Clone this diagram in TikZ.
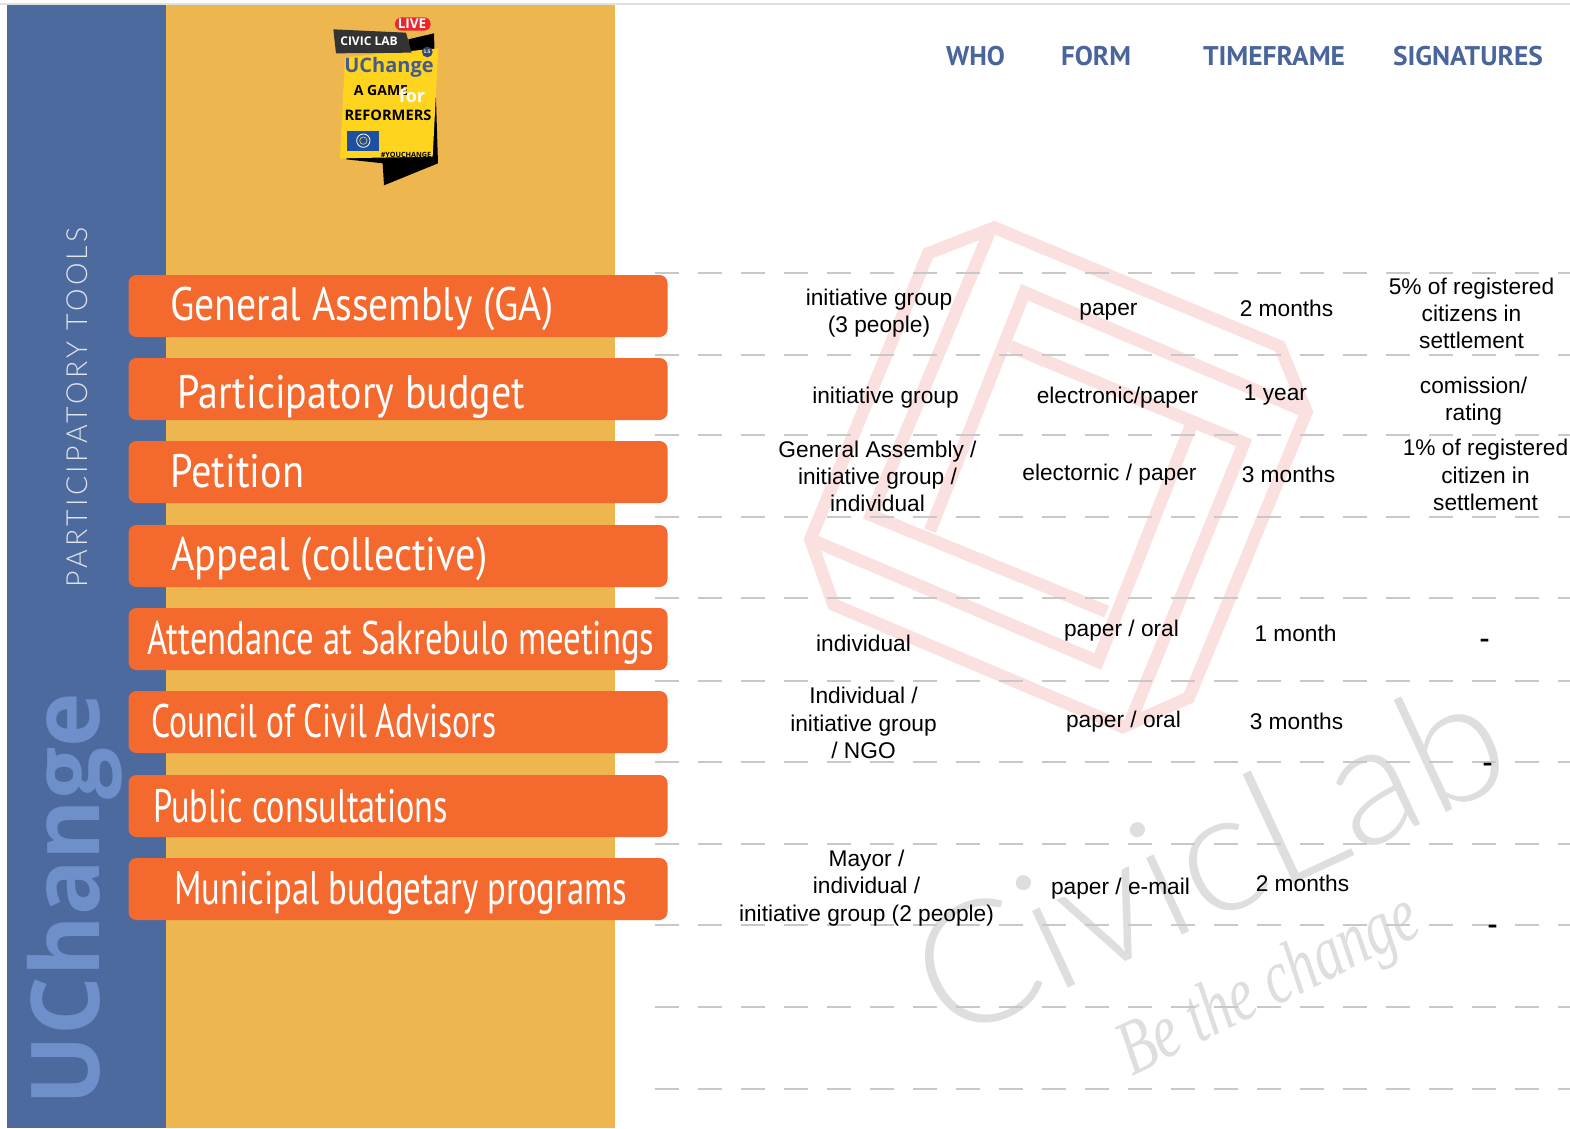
\documentclass[tikz,border=0pt]{standalone}
\usepackage{fontspec}
\usepackage{graphicx}
\setmainfont{Liberation Sans}
\newfontfamily\condf{PT Sans}
\newfontfamily\lightf{Lato Light}
\newfontfamily\spacedf{Lato Light}[LetterSpace=12]
\newfontfamily\boldf{Open Sans}[BoldFont={Open Sans Bold}]
\newfontfamily\serifi{Liberation Serif}
\definecolor{bluebar}{HTML}{4C6A9D}
\definecolor{bluetext}{HTML}{6F8FCB}
\definecolor{sand}{HTML}{EDB64F}
\definecolor{orng}{HTML}{F4692D}
\definecolor{headblue}{HTML}{4A659C}
\definecolor{pinkw}{HTML}{FBE0E0}
\definecolor{dashc}{HTML}{C8C8C8}
\definecolor{wm}{HTML}{DEDEDE}
\definecolor{ylw}{HTML}{FFD41F}
\definecolor{pillred}{HTML}{E8292C}
\definecolor{flagblue}{HTML}{1F4FA0}
\tikzset{
  x=1pt,y=-1pt,
  tool/.style={fill=orng,rounded corners=8pt},
  toollabel/.style={text=white,inner sep=0,anchor=base west,font=\condf\fontsize{47pt}{50pt}\selectfont},
  head/.style={text=headblue,inner sep=0,font=\condf\bfseries\fontsize{27pt}{30pt}\selectfont},
  cell/.style={text=black,inner sep=0,align=center,xshift=1.5pt,font=\fontsize{22.7pt}{27.3pt}\selectfont},
  rowline/.style={dashc,line width=1.3pt,dash pattern=on 24pt off 19pt},
  wmstripe/.style={pinkw,line width=12.5pt,miter limit=10},
}
\newcommand{\fitw}[2]{\resizebox{#1pt}{\height}{#2}}
\newcommand{\thickdash}{\resizebox{10pt}{\height}{\textbf{-}}}
\begin{document}
\begin{tikzpicture}
\useasboundingbox (0,0) rectangle (1570,1128);
\fill[white] (0,0) rectangle (1570,1128);
\fill[black!12] (0,3) rectangle (1570,5);
\fill[bluebar] (7,5) rectangle (166,1128);
\fill[sand] (166,5) rectangle (615,1128);
% watermark
\begin{scope}[shift={(780,200)},x=0.357pt,y=-0.3444pt]
 \draw[wmstripe,line join=miter] (600,80) -- (1400,425) -- (1475,615) -- (1145,1445) -- (960,1530) -- (150,1175) -- (85,985) -- (415,155) -- cycle;
 \draw[wmstripe] (590,85) -- (255,915) -- (915,1195);
 \draw[wmstripe] (420,960) -- (685,268) -- (1475,615);
 \draw[wmstripe] (645,425) -- (1300,705) -- (975,1530);
 \draw[wmstripe] (1155,645) -- (890,1340) -- (85,985);
\end{scope}
\node[text=wm,inner sep=0,rotate=25,font=\lightf\fontsize{170pt}{170pt}\selectfont] (civic) at (1208,856) {\resizebox{630pt}{\height}{CivicLab}};
\node[text=wm,inner sep=0,rotate=26,font=\serifi\itshape\fontsize{78pt}{78pt}\selectfont] (bethe) at (1270,988) {\resizebox{325pt}{\height}{Be the change}};
% dashed rows
\foreach \n/\y in {a/273,b/355,c/435,d/517,e/598,f/681,g/762,h/844,i/925,j/1007,k/1089}{
  \coordinate (l\n) at (655,\y);
  \coordinate (r\n) at (1570,\y);
  \draw[rowline] (l\n) -- (r\n);
}
% side labels
\node[rotate=90,anchor=base,text=white!82!bluebar,inner sep=0,font=\spacedf\fontsize{29pt}{30pt}\selectfont] (pt) at (87,407) {\resizebox{360pt}{\height}{PARTICIPATORY TOOLS}};
\node[rotate=90,anchor=base,text=bluetext,inner sep=0,font=\boldf\bfseries\fontsize{95pt}{100pt}\selectfont] (uc) at (99,899) {\resizebox{412pt}{\height}{UChange}};
% tool bars
\foreach \n/\y in {1/275,2/358,3/441,4/525,5/608,6/691,7/775,8/858}{
  \fill[tool] (128.5,\y) rectangle (667.5,\y+62);
}
\node[toollabel] (t1) at (170,320) {\fitw{383}{General Assembly (GA)}};
\node[toollabel] (t2) at (177,408) {\fitw{348}{Participatory budget}};
\node[toollabel] (t3) at (170,487) {\fitw{134}{Petition}};
\node[toollabel] (t4) at (171,570) {\fitw{316}{Appeal (collective)}};
\node[toollabel] (t5) at (147,654) {\fitw{507}{Attendance at Sakrebulo meetings}};
\node[toollabel] (t6) at (151,737) {\fitw{345}{Council of Civil Advisors}};
\node[toollabel] (t7) at (153,822) {\fitw{295}{Public consultations}};
\node[toollabel] (t8) at (174,904) {\fitw{453}{Municipal budgetary programs}};
% heads
\node[head] (h1) at (975.5,56) {\fitw{59}{WHO}};
\node[head] (h2) at (1096,56) {\fitw{70}{FORM}};
\node[head] (h3) at (1274,56) {\fitw{142}{TIMEFRAME}};
\node[head] (h4) at (1468,56) {\fitw{150}{SIGNATURES}};
% cells
\node[cell] (c11) at (877.5,313) {initiative group\\(3 people)};
\node[cell] (c12) at (1107,312) {paper};
\node[cell] (c13) at (1285,308) {2 months};
\node[cell] (c14) at (1470,313.5) {5\% of registered\\citizens in\\settlement};
\node[cell] (c21) at (884,398) {initiative group};
\node[cell] (c22) at (1116,398) {electronic/paper};
\node[cell] (c23) at (1274,395) {1 year};
\node[cell] (c24) at (1472,401) {comission/\\rating};
\node[cell] (c31) at (876,476.5) {General Assembly /\\initiative group /\\individual};
\node[cell] (c32) at (1108,475) {electornic / paper};
\node[cell] (c33) at (1287,474) {3 months};
\node[cell] (c34) at (1484,475) {1\% of registered\\citizen in\\settlement};
\node[cell] (c51) at (862,643.5) {individual};
\node[cell] (c52) at (1120,631) {paper / oral};
\node[cell] (c53) at (1294,633) {1 month};
\node[cell] (c54) at (1483,643) {\thickdash};
\node[cell] (c61) at (862,723) {Individual /\\initiative group\\/ NGO};
\node[cell] (c62) at (1122,722) {paper / oral};
\node[cell] (c63) at (1295,721) {3 months};
\node[cell] (c64) at (1486,767) {\thickdash};
\node[cell] (c81) at (865,888) {Mayor /\\individual /\\initiative group (2 people)};
\node[cell] (c82) at (1119,889) {paper / e-mail};
\node[cell] (c83) at (1301,883) {2 months};
\node[cell] (c84) at (1491,929) {\thickdash};
% logo
\begin{scope}[shift={(310,0)},x=0.3333pt,y=-0.3333pt]
 \fill[black] (108,478) -- (218,490) -- (222,556) -- (384,490) -- (372,100) -- (295,118) -- (295,300) -- cycle;
 \fill[ylw] (105,172) -- (385,145) -- (368,470) -- (90,475) -- cycle;
 \fill[black!80!white] (70,88) -- (288,98) -- (305,158) -- (78,160) -- cycle;
 \fill[pillred,rounded corners=6.5pt] (255,52) rectangle (362,92);
 \fill[headblue!70!black] (352,156) circle[radius=16];
 \fill[flagblue] (112,392) rectangle (208,452);
 \draw[white,line width=0.8pt] (160,422) circle[radius=20];
 \draw[ylw,line width=0.6pt] (160,422) circle[radius=11];
\end{scope}
\node[text=white,inner sep=0,font=\boldf\bfseries\fontsize{13.5pt}{14pt}\selectfont] (lv) at (412,24) {LIVE};
\node[text=white,inner sep=0,font=\boldf\bfseries\fontsize{12pt}{13pt}\selectfont] (cl) at (369,41) {CIVIC LAB};
\node[text=white,inner sep=0,font=\bfseries\fontsize{5pt}{6pt}\selectfont] (v15) at (427,52) {1.5};
\node[text=headblue!90!black,inner sep=0,font=\boldf\bfseries\fontsize{20pt}{22pt}\selectfont] (ucl) at (389,67) {UChange};
\node[text=black,inner sep=0,font=\boldf\bfseries\fontsize{14pt}{15pt}\selectfont] (ag) at (381,90) {A GAME};
\node[text=white,inner sep=0,font=\boldf\bfseries\fontsize{18pt}{20pt}\selectfont] (fr) at (412,96) {for};
\node[text=black,inner sep=0,font=\boldf\bfseries\fontsize{14.5pt}{16pt}\selectfont] (rf) at (388,115) {\resizebox{87pt}{\height}{REFORMERS}};
\node[text=black,inner sep=0,font=\boldf\bfseries\fontsize{7.2pt}{8pt}\selectfont] (yc) at (406,155) {\#YOUCHANGE};
\end{tikzpicture}
\end{document}
